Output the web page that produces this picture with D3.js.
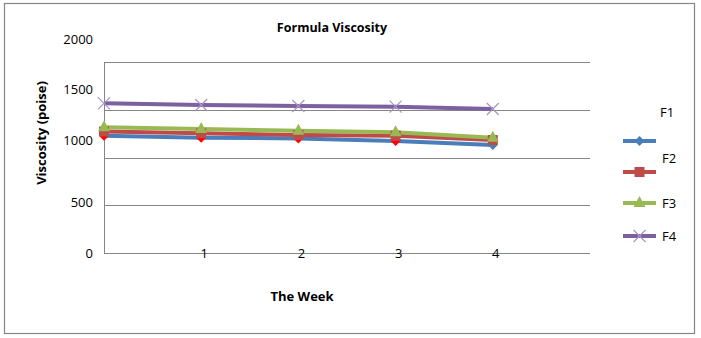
<!DOCTYPE html>
<html><head><meta charset="utf-8">
<script src="https://cdn.jsdelivr.net/npm/d3@7"></script>
<style>body{margin:0;background:#fff}svg{display:block}text{font-family:"Open Sans","Liberation Sans",Arial,sans-serif}</style>
</head><body><svg id="c" width="701" height="338"></svg>
<script>
// ---- data ----
const weeks = [0, 1, 2, 3, 4];
const xTickLabels = [1, 2, 3, 4];
const yTicks = [0, 500, 1000, 1500, 2000];
const seriesNames = ["F1", "F2", "F3", "F4"];
const F1 = [1228, 1207, 1200, 1172, 1131];
const F2 = [1272, 1253, 1236, 1228, 1183];
const F3 = [1316, 1298, 1281, 1264, 1207];
const F4 = [1567, 1550, 1539, 1532, 1508];
const seriesValues = [F1, F2, F3, F4];

// ---- style ----
const colors = ["#4A7EBB", "#BE4B48", "#98B954", "#7D60A0"];
const markers = ["diamond", "square", "triangle", "cross"];
const yLabelShift = [0, -3, -17, -20, -23];

const svg = d3.select("#c");
svg.append("rect").attr("x", 4.5).attr("y", 3.5).attr("width", 690).attr("height", 330)
  .attr("fill", "#fff").attr("stroke", "#868686").attr("stroke-width", 1.2);

const x = d3.scaleLinear().domain([0, 5]).range([104, 590]);
const y = d3.scaleLinear().domain([0, 2000]).range([253, 62]);

// gridlines
svg.append("g").selectAll("line").data(yTicks).join("line")
  .attr("x1", x(0)).attr("x2", x(5)).attr("y1", d => Math.round(y(d)) + 0.5).attr("y2", d => Math.round(y(d)) + 0.5)
  .attr("stroke", "#868686").attr("stroke-width", 1);
svg.append("line").attr("x1", x(0) + 0.5).attr("x2", x(0) + 0.5).attr("y1", y(2000)).attr("y2", y(0))
  .attr("stroke", "#868686");

// y tick labels
svg.append("g").selectAll("text").data(yTicks).join("text")
  .attr("x", 93).attr("y", (d, i) => y(d) + yLabelShift[i]).attr("dy", "0.35em")
  .attr("text-anchor", "end").attr("font-size", 13).attr("fill", "#000").text(d => d);

// x tick labels
svg.append("g").selectAll("text").data(xTickLabels).join("text")
  .attr("x", d => x(d) + 3).attr("y", y(0)).attr("dy", "0.35em")
  .attr("text-anchor", "middle").attr("font-size", 13).attr("fill", "#000").text(d => d);

// titles
svg.append("text").attr("x", 332).attr("y", 28).attr("dy", "0.35em").attr("text-anchor", "middle")
  .attr("font-size", 12.5).attr("font-weight", "bold").text("Formula Viscosity");
svg.append("text").attr("x", 302).attr("y", 296).attr("dy", "0.35em").attr("text-anchor", "middle")
  .attr("font-size", 13).attr("font-weight", "bold").text("The Week");
svg.append("text").attr("transform", "translate(41,133) rotate(-90)").attr("dy", "0.35em")
  .attr("text-anchor", "middle").attr("font-size", 13).attr("font-weight", "bold").text("Viscosity (poise)");

function marker(g, type, cx, cy, color) {
  if (type === "diamond") {
    g.append("path").attr("d", `M${cx},${cy-5}L${cx+5},${cy}L${cx},${cy+5}L${cx-5},${cy}Z`).attr("fill", color);
  } else if (type === "square") {
    g.append("rect").attr("x", cx - 5).attr("y", cy - 5).attr("width", 10).attr("height", 10).attr("fill", color);
  } else if (type === "triangle") {
    g.append("path").attr("d", `M${cx},${cy-7}L${cx+6},${cy+4}L${cx-6},${cy+4}Z`).attr("fill", color);
  } else {
    g.append("path").attr("d", `M${cx-6},${cy-6}L${cx+6},${cy+6}M${cx-6},${cy+6}L${cx+6},${cy-6}`)
      .attr("stroke", "#A795C4").attr("stroke-width", 1.2).attr("fill", "none");
  }
}

const line = d3.line().x((d, i) => x(weeks[i])).y(d => y(d));
const gLines = svg.append("g");
seriesValues.forEach((vals, s) => {
  gLines.append("path").datum(vals).attr("d", line).attr("fill", "none")
    .attr("stroke", colors[s]).attr("stroke-width", 4).attr("stroke-linejoin", "round");
});
seriesValues.forEach((vals, s) => {
  const g = svg.append("g");
  vals.forEach((v, i) => {
    const c = (s === 0 && i < 4) ? "#FF0000" : colors[s];
    marker(g, markers[s], x(weeks[i]), y(v), c);
  });
});

// legend
const legY = [141, 172, 203, 236];
const legTextPos = [[660, 112], [662, 158], [662, 203], [662, 236]];
const lg = svg.append("g");
seriesNames.forEach((n, s) => {
  lg.append("line").attr("x1", 623).attr("x2", 656).attr("y1", legY[s]).attr("y2", legY[s])
    .attr("stroke", colors[s]).attr("stroke-width", 4);
  marker(lg, markers[s], 639.5, legY[s], colors[s]);
  lg.append("text").attr("x", legTextPos[s][0]).attr("y", legTextPos[s][1]).attr("dy", "0.35em")
    .attr("font-size", 13).text(n);
});
</script></body></html>
